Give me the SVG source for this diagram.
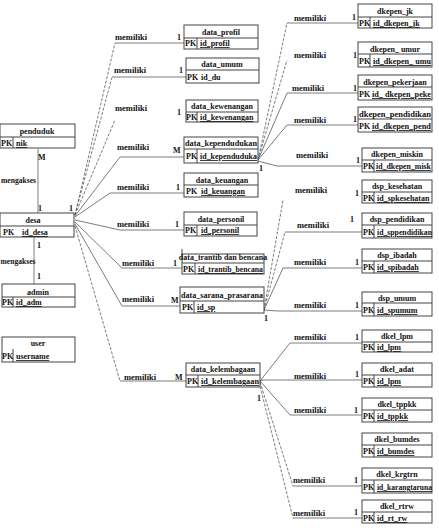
<svg xmlns="http://www.w3.org/2000/svg" width="439" height="530" viewBox="0 0 439 530">
<style>
.b{fill:#fff;stroke:#444;stroke-width:1}
.s{stroke:#444;stroke-width:1;fill:none}
.t{font-family:"Liberation Serif","Times New Roman",serif;font-size:8px;font-weight:bold;fill:#111}
.m{font-size:8.5px}
.g{font-size:7.6px}
.c{text-anchor:middle}
.e{text-anchor:end}
.u{text-decoration:underline}
.l{stroke:#5a5a5a;stroke-width:0.8;fill:none}
.d{stroke-dasharray:3 1.5}
</style>
<rect width="439" height="530" fill="#fff"/>

<g id="connectors">
  <line class="l" x1="38" y1="149" x2="38" y2="213"/>
  <line class="l" x1="34" y1="237" x2="34" y2="284"/>
  <polyline class="l d" points="75,215 115,43"/><line class="l" x1="115" y1="43" x2="184" y2="43"/>
  <polyline class="l d" points="75,215 112,77"/><line class="l" x1="112" y1="77" x2="186" y2="77"/>
  <polyline class="l d" points="75,215 115,120"/>
  <polyline class="l" points="75,216 120,157 184,157"/>
  <polyline class="l" points="75,217 110,193 184,193"/>
  <polyline class="l" points="75,220 120,230 184,230"/>
  <polyline class="l" points="75,222 122,268 182,268"/>
  <polyline class="l" points="75,224 122,306 180,306"/>
  <polyline class="l d" points="75,226 120,381"/><line class="l" x1="120" y1="381" x2="186" y2="381"/>
  <polyline class="l d" points="258,160 287,23"/><line class="l" x1="287" y1="23" x2="358" y2="23"/>
  <polyline class="l d" points="258,160 287,60"/>
  <polyline class="l" points="258,160 287,93 358,93"/>
  <polyline class="l" points="258,160 287,125 358,125"/>
  <polyline class="l" points="258,161 277,166 362,166"/>
  <polyline class="l d" points="264,310 283,200"/>
  <polyline class="l d" points="264,310 285,232"/><line class="l" x1="285" y1="232" x2="362" y2="232"/>
  <polyline class="l" points="264,310 283,268 362,268"/>
  <polyline class="l" points="264,310 278,311 362,311"/>
  <polyline class="l" points="260,381 290,343 362,343"/>
  <polyline class="l" points="260,381 263,380 362,380"/>
  <polyline class="l" points="260,381 290,415 362,415"/>
  <polyline class="l d" points="260,382 293,486"/><line class="l" x1="293" y1="486" x2="362" y2="486"/>
  <polyline class="l d" points="259,382 293,518"/><line class="l" x1="293" y1="518" x2="362" y2="518"/>
</g>

<g id="labels">
  <text class="t g" x="1" y="183">mengakses</text>
  <text class="t g" x="0.5" y="264">mengakses</text>
  <text class="t" x="38" y="160">M</text>
  <text class="t" x="38" y="211">1</text>
  <text class="t" x="69" y="211">1</text>
  <text class="t" x="37" y="248">1</text>
  <text class="t" x="37" y="279">1</text>

  <text class="t m" x="115" y="40">memiliki</text>
  <text class="t m" x="114" y="73">memiliki</text>
  <text class="t m" x="115" y="111">memiliki</text>
  <text class="t m" x="117" y="150">memiliki</text>
  <text class="t m" x="117" y="190">memiliki</text>
  <text class="t m" x="117" y="227">memiliki</text>
  <text class="t m" x="122" y="266">memiliki</text>
  <text class="t m" x="122" y="302">memiliki</text>
  <text class="t m" x="124" y="380">memiliki</text>

  <text class="t" x="177" y="40">1</text>
  <text class="t" x="179" y="73">1</text>
  <text class="t" x="177" y="115">1</text>
  <text class="t" x="173" y="153">M</text>
  <text class="t" x="176" y="190">1</text>
  <text class="t" x="175" y="227">1</text>
  <text class="t" x="173" y="266">1</text>
  <text class="t" x="171" y="303">M</text>
  <text class="t" x="175" y="380">M</text>

  <text class="t m" x="294" y="21">memiliki</text>
  <text class="t m" x="294" y="58">memiliki</text>
  <text class="t m" x="292" y="91">memiliki</text>
  <text class="t m" x="294" y="123">memiliki</text>
  <text class="t m" x="296" y="158">memiliki</text>
  <text class="t" x="352" y="20">1</text>
  <text class="t" x="353" y="58">1</text>
  <text class="t" x="353" y="91">1</text>
  <text class="t" x="353" y="122">1</text>
  <text class="t" x="356" y="163">1</text>
  <text class="t" x="259" y="171">1</text>

  <text class="t m" x="295" y="193">memiliki</text>
  <text class="t m" x="297" y="228">memiliki</text>
  <text class="t m" x="294" y="265">memiliki</text>
  <text class="t m" x="294" y="308">memiliki</text>
  <text class="t" x="355" y="196">1</text>
  <text class="t" x="350" y="222">1</text>
  <text class="t" x="355" y="265">1</text>
  <text class="t" x="355" y="308">1</text>
  <text class="t" x="264" y="321">1</text>

  <text class="t m" x="294" y="340">memiliki</text>
  <text class="t m" x="294" y="379">memiliki</text>
  <text class="t m" x="294" y="413">memiliki</text>
  <text class="t m" x="293" y="483">memiliki</text>
  <text class="t m" x="293" y="516">memiliki</text>
  <text class="t" x="355" y="340">1</text>
  <text class="t" x="355" y="377">1</text>
  <text class="t" x="354" y="413">1</text>
  <text class="t" x="354" y="483">1</text>
  <text class="t" x="354" y="515">1</text>
  <text class="t" x="257" y="401">1</text>
</g>

<g id="penduduk">
  <rect class="b" x="0" y="124" width="75" height="24"/>
  <line class="s" x1="0" y1="137" x2="75" y2="137"/>
  <line class="s" x1="13" y1="137" x2="13" y2="148"/>
  <text class="t c" x="37" y="134">penduduk</text>
  <text class="t" x="1" y="146">PK</text>
  <text class="t u" x="16" y="146">nik</text>
</g>
<g id="desa">
  <rect class="b" x="0" y="213" width="74" height="24"/>
  <line class="s" x1="0" y1="226" x2="74" y2="226"/>
  <text class="t c" x="33" y="223">desa</text>
  <text class="t" x="3" y="235">PK</text>
  <text class="t u" x="22" y="235">id_desa</text>
</g>
<g id="admin">
  <rect class="b" x="2" y="284" width="73" height="23"/>
  <line class="s" x1="2" y1="297" x2="75" y2="297"/>
  <line class="s" x1="13" y1="297" x2="13" y2="307"/>
  <text class="t c" x="38" y="295">admin</text>
  <text class="t" x="2" y="305">PK</text>
  <text class="t u" x="16" y="305">id_adm</text>
</g>
<g id="user">
  <rect class="b" x="2" y="337" width="73" height="25"/>
  <line class="s" x1="13" y1="349" x2="13" y2="362"/>
  <text class="t c" x="38" y="346">user</text>
  <text class="t" x="2" y="359">PK</text>
  <text class="t u" x="16" y="359">username</text>
</g>

<g id="data_profil">
  <rect class="b" x="184" y="25" width="74" height="24"/>
  <line class="s" x1="184" y1="38" x2="258" y2="38"/>
  <line class="s" x1="197" y1="38" x2="197" y2="49"/>
  <text class="t c" x="221" y="35">data_profil</text>
  <text class="t" x="185" y="46">PK</text>
  <text class="t u" x="200" y="46">id_profil</text>
</g>
<g id="data_umum">
  <rect class="b" x="186" y="58" width="73" height="25"/>
  <line class="s" x1="186" y1="70" x2="259" y2="70"/>
  <text class="t c" x="222" y="67">data_umum</text>
  <text class="t" x="187" y="80">PK</text>
  <text class="t" x="201" y="80">id_du</text>
</g>
<g id="data_kewenangan">
  <rect class="b" x="186" y="100" width="72" height="22"/>
  <line class="s" x1="186" y1="112" x2="258" y2="112"/>
  <line class="s" x1="197" y1="112" x2="197" y2="122"/>
  <text class="t c" x="222" y="109">data_kewenangan</text>
  <text class="t" x="186" y="120">PK</text>
  <text class="t u" x="200" y="120">id_kewenangan</text>
</g>
<g id="data_kependudukan">
  <rect class="b" x="184" y="137" width="74" height="26"/>
  <line class="s" x1="184" y1="149" x2="258" y2="149"/>
  <line class="s" x1="197" y1="149" x2="197" y2="163"/>
  <text class="t c" x="221" y="146" textLength="72" lengthAdjust="spacingAndGlyphs">data_kependudukan</text>
  <text class="t" x="186" y="159">PK</text>
  <text class="t u" x="200" y="159" textLength="57" lengthAdjust="spacingAndGlyphs">id_kependuduka</text>
</g>
<g id="data_keuangan">
  <rect class="b" x="184" y="173" width="74" height="24"/>
  <line class="s" x1="184" y1="185" x2="258" y2="185"/>
  <text class="t c" x="222" y="183">data_keuangan</text>
  <text class="t" x="186" y="194">PK</text>
  <text class="t u" x="201" y="194">id_keuangan</text>
</g>
<g id="data_personil">
  <rect class="b" x="184" y="212" width="73" height="24"/>
  <line class="s" x1="184" y1="225" x2="257" y2="225"/>
  <line class="s" x1="197" y1="225" x2="197" y2="236"/>
  <text class="t c" x="221" y="222">data_personil</text>
  <text class="t" x="185" y="233">PK</text>
  <text class="t u" x="201" y="233">id_personil</text>
</g>
<g id="data_trantib">
  <rect class="b" x="182" y="254" width="82" height="20"/>
  <line class="s" x1="182" y1="249" x2="182" y2="254"/>
  <line class="s" x1="182" y1="263" x2="264" y2="263"/>
  <line class="s" x1="195" y1="263" x2="195" y2="274"/>
  <text class="t c" x="223" y="260">data_trantib dan bencana</text>
  <text class="t" x="183" y="272">PK</text>
  <text class="t u" x="198" y="272" textLength="65" lengthAdjust="spacingAndGlyphs">id_trantib_bencana</text>
</g>
<g id="data_sarana_prasarana">
  <rect class="b" x="180" y="287" width="84" height="26"/>
  <line class="s" x1="180" y1="301" x2="264" y2="301"/>
  <line class="s" x1="194" y1="301" x2="194" y2="313"/>
  <text class="t c" x="222" y="298" textLength="82" lengthAdjust="spacingAndGlyphs">data_sarana_prasarana</text>
  <text class="t" x="182" y="310">PK</text>
  <text class="t u" x="197" y="310">id_sp</text>
</g>
<g id="data_kelembagaan">
  <rect class="b" x="186" y="363" width="74" height="24"/>
  <line class="s" x1="186" y1="375" x2="260" y2="375"/>
  <line class="s" x1="198" y1="375" x2="198" y2="387"/>
  <text class="t c" x="223" y="372">data_kelembagaan</text>
  <text class="t" x="187" y="384">PK</text>
  <text class="t u" x="201" y="384" textLength="58" lengthAdjust="spacingAndGlyphs">id_kelembagaan</text>
</g>

<g id="dkepen_jk">
  <rect class="b" x="358" y="4" width="74" height="24"/>
  <line class="s" x1="358" y1="17" x2="432" y2="17"/>
  <line class="s" x1="370" y1="17" x2="370" y2="28"/>
  <text class="t c" x="395" y="14">dkepen_jk</text>
  <text class="t" x="359" y="26">PK</text>
  <text class="t u" x="373" y="26">id_dkepen_jk</text>
</g>
<g id="dkepen_umur">
  <rect class="b" x="358" y="42" width="74" height="25"/>
  <line class="s" x1="358" y1="54" x2="432" y2="54"/>
  <line class="s" x1="370" y1="54" x2="370" y2="67"/>
  <text class="t c" x="395" y="52">dkepen_ umur</text>
  <text class="t" x="359" y="64">PK</text>
  <text class="t u" x="373" y="64" textLength="58" lengthAdjust="spacingAndGlyphs">id_dkepen_ umu</text>
</g>
<g id="dkepen_pekerjaan">
  <rect class="b" x="358" y="75" width="74" height="25"/>
  <line class="s" x1="358" y1="87" x2="432" y2="87"/>
  <text class="t c" x="395" y="85">dkepen_pekerjaan</text>
  <text class="t" x="359" y="97">PK</text>
  <text class="t u" x="372" y="97" textLength="59" lengthAdjust="spacingAndGlyphs">id_ dkepen_peke</text>
</g>
<g id="dkepen_pendidikan">
  <rect class="b" x="358" y="107" width="74" height="25"/>
  <line class="s" x1="358" y1="119" x2="432" y2="119"/>
  <text class="t c" x="395" y="117" textLength="72" lengthAdjust="spacingAndGlyphs">dkepen_pendidikan</text>
  <text class="t" x="359" y="129">PK</text>
  <text class="t u" x="372" y="129" textLength="59" lengthAdjust="spacingAndGlyphs">id_dkepen_pend</text>
</g>
<g id="dkepen_miskin">
  <rect class="b" x="362" y="148" width="70" height="24"/>
  <line class="s" x1="362" y1="160" x2="432" y2="160"/>
  <line class="s" x1="374" y1="160" x2="374" y2="172"/>
  <text class="t c" x="397" y="157">dkepen_miskin</text>
  <text class="t" x="363" y="169">PK</text>
  <text class="t u" x="376" y="169" textLength="55" lengthAdjust="spacingAndGlyphs">id_dkepen_misk</text>
</g>
<g id="dsp_kesehatan">
  <rect class="b" x="362" y="180" width="70" height="23"/>
  <line class="s" x1="362" y1="192" x2="432" y2="192"/>
  <line class="s" x1="374" y1="192" x2="374" y2="203"/>
  <text class="t c" x="397" y="189">dsp_kesehatan</text>
  <text class="t" x="363" y="201">PK</text>
  <text class="t u" x="377" y="201">id_spkesehatan</text>
</g>
<g id="dsp_pendidikan">
  <rect class="b" x="362" y="213" width="70" height="25"/>
  <line class="s" x1="362" y1="225" x2="432" y2="225"/>
  <line class="s" x1="374" y1="225" x2="374" y2="238"/>
  <text class="t c" x="397" y="222">dsp_pendidikan</text>
  <text class="t" x="363" y="235">PK</text>
  <text class="t u" x="377" y="235" textLength="55" lengthAdjust="spacingAndGlyphs">id_sppendidikan</text>
</g>
<g id="dsp_ibadah">
  <rect class="b" x="362" y="249" width="70" height="24"/>
  <line class="s" x1="362" y1="261" x2="432" y2="261"/>
  <line class="s" x1="374" y1="261" x2="374" y2="273"/>
  <text class="t c" x="397" y="258">dsp_ibadah</text>
  <text class="t" x="363" y="270">PK</text>
  <text class="t u" x="377" y="270">id_spibadah</text>
</g>
<g id="dsp_umum">
  <rect class="b" x="362" y="292" width="70" height="24"/>
  <line class="s" x1="362" y1="303" x2="432" y2="303"/>
  <line class="s" x1="374" y1="303" x2="374" y2="316"/>
  <text class="t c" x="397" y="301">dsp_umum</text>
  <text class="t" x="363" y="313">PK</text>
  <text class="t u" x="377" y="313">id_spumum</text>
</g>
<g id="dkel_lpm">
  <rect class="b" x="362" y="330" width="70" height="22"/>
  <line class="s" x1="362" y1="342" x2="432" y2="342"/>
  <line class="s" x1="374" y1="342" x2="374" y2="352"/>
  <text class="t c" x="397" y="339">dkel_lpm</text>
  <text class="t" x="363" y="350">PK</text>
  <text class="t u" x="377" y="350">id_lpm</text>
</g>
<g id="dkel_adat">
  <rect class="b" x="362" y="363" width="70" height="24"/>
  <line class="s" x1="362" y1="375" x2="432" y2="375"/>
  <line class="s" x1="374" y1="375" x2="374" y2="387"/>
  <text class="t c" x="397" y="372">dkel_adat</text>
  <text class="t" x="363" y="384">PK</text>
  <text class="t u" x="377" y="384">id_lpm</text>
</g>
<g id="dkel_tppkk">
  <rect class="b" x="362" y="398" width="70" height="24"/>
  <line class="s" x1="362" y1="410" x2="432" y2="410"/>
  <line class="s" x1="374" y1="410" x2="374" y2="422"/>
  <text class="t c" x="397" y="407">dkel_tppkk</text>
  <text class="t" x="363" y="419">PK</text>
  <text class="t u" x="377" y="419">id_tppkk</text>
</g>
<g id="dkel_bumdes">
  <rect class="b" x="362" y="433" width="70" height="24"/>
  <line class="s" x1="362" y1="445" x2="432" y2="445"/>
  <line class="s" x1="374" y1="445" x2="374" y2="457"/>
  <text class="t c" x="397" y="442">dkel_bumdes</text>
  <text class="t" x="363" y="454">PK</text>
  <text class="t u" x="377" y="454">id_bumdes</text>
</g>
<g id="dkel_krgtrn">
  <rect class="b" x="362" y="468" width="70" height="25"/>
  <line class="s" x1="362" y1="480" x2="432" y2="480"/>
  <line class="s" x1="374" y1="480" x2="374" y2="493"/>
  <text class="t c" x="397" y="477">dkel_krgtrn</text>
  <text class="t" x="363" y="490">PK</text>
  <text class="t u" x="377" y="490" textLength="55" lengthAdjust="spacingAndGlyphs">id_karangtaruna</text>
</g>
<g id="dkel_rtrw">
  <rect class="b" x="362" y="500" width="70" height="23"/>
  <line class="s" x1="362" y1="512" x2="432" y2="512"/>
  <line class="s" x1="374" y1="512" x2="374" y2="523"/>
  <text class="t c" x="397" y="509">dkel_rtrw</text>
  <text class="t" x="363" y="521">PK</text>
  <text class="t u" x="377" y="521">id_rt_rw</text>
</g>
</svg>
